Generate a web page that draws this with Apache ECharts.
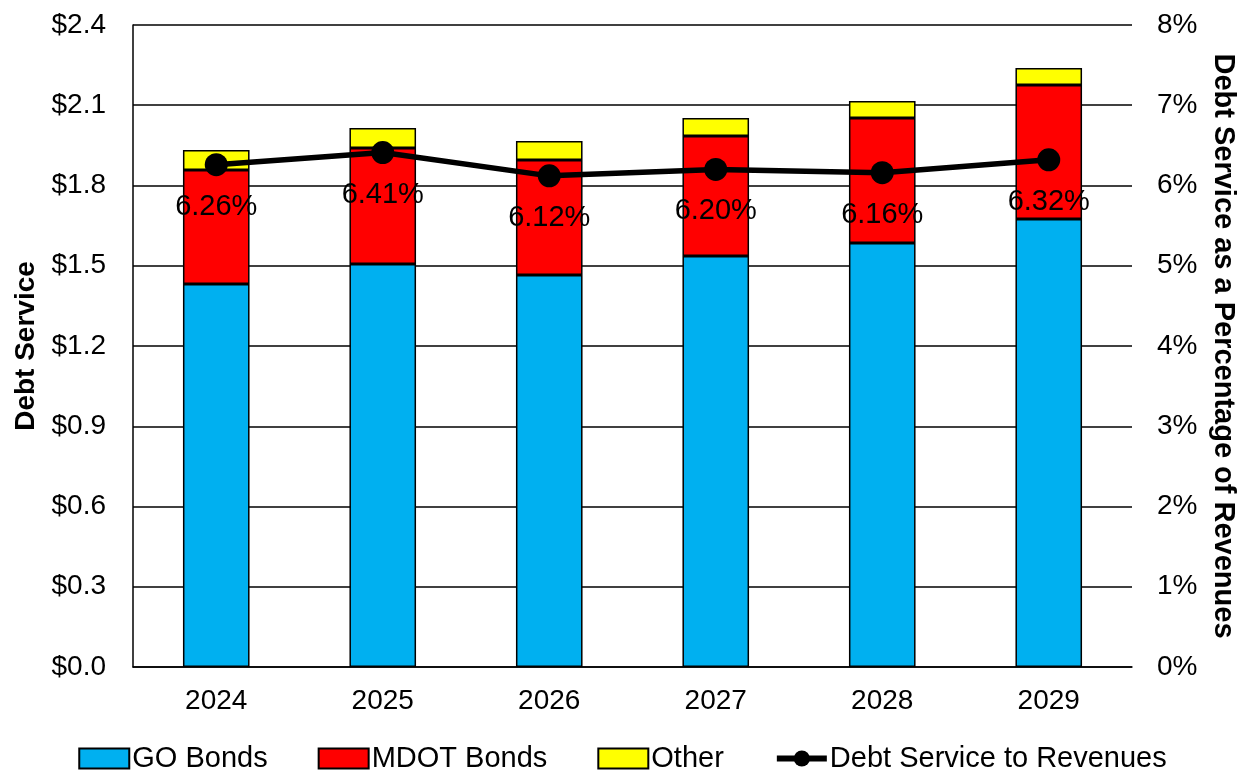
<!DOCTYPE html>
<html>
<head>
<meta charset="utf-8">
<script src="https://cdn.jsdelivr.net/npm/echarts@6/dist/echarts.min.js"></script>
<style>
html,body{margin:0;padding:0;background:#fff;}
#chart{width:1245px;height:773px;}
</style>
</head>
<body>
<div id="chart"></div>
<script>
var categories = ['2024', '2025', '2026', '2027', '2028', '2029'];
var goBonds = [1.432, 1.507, 1.465, 1.536, 1.585, 1.675];
var mdotBonds = [0.426, 0.433, 0.430, 0.449, 0.467, 0.501];
var other = [0.075, 0.075, 0.071, 0.067, 0.064, 0.063];
var debtRatio = [6.26, 6.41, 6.12, 6.20, 6.16, 6.32];
var leftTicks = {min: 0, max: 2.4, interval: 0.3};
var rightTicks = {min: 0, max: 8, interval: 1};

var FONT = 'Liberation Sans, Arial, sans-serif';
var chart = echarts.init(document.getElementById('chart'));
var barStyle = function (c) {
  return {color: c, borderColor: '#000', borderWidth: 1.5};
};
chart.setOption({
  animation: false,
  textStyle: {fontFamily: FONT},
  grid: {left: 133, right: 113, top: 25, bottom: 106, containLabel: false, outerBoundsMode: 'none'},
  legend: {
    top: 739,
    left: 'center',
    itemWidth: 50,
    itemHeight: 20,
    itemGap: 50,
    textStyle: {fontSize: 29, color: '#000', fontFamily: FONT, padding: [0, 0, 0, -2]},
    data: [
      {name: 'GO Bonds', icon: 'rect'},
      {name: 'MDOT Bonds', icon: 'rect'},
      {name: 'Other', icon: 'rect'},
      {name: 'Debt Service to Revenues', lineStyle: {width: 6}}
    ]
  },
  xAxis: {
    type: 'category',
    data: categories,
    axisLine: {lineStyle: {color: '#000', width: 1.5}},
    axisTick: {show: false},
    axisLabel: {fontSize: 28, color: '#000', margin: 20, fontFamily: FONT}
  },
  yAxis: [
    {
      type: 'value',
      min: leftTicks.min, max: leftTicks.max, interval: leftTicks.interval,
      name: 'Debt Service',
      nameLocation: 'middle',
      nameGap: 90,
      nameTextStyle: {fontSize: 28, fontWeight: 'bold', color: '#000', fontFamily: FONT},
      axisLine: {show: true, lineStyle: {color: '#000', width: 1.5}},
      axisTick: {show: false},
      axisLabel: {fontSize: 28, color: '#000', margin: 27, fontFamily: FONT,
        formatter: function (v) { return '$' + v.toFixed(1); }},
      splitLine: {lineStyle: {color: '#000', width: 1.5}}
    },
    {
      type: 'value',
      min: rightTicks.min, max: rightTicks.max, interval: rightTicks.interval,
      position: 'right',
      name: 'Debt Service as a Percentage of Revenues',
      nameLocation: 'middle',
      nameRotate: -90,
      nameGap: 76,
      nameTextStyle: {fontSize: 29, fontWeight: 'bold', color: '#000', fontFamily: FONT},
      axisLine: {show: false},
      axisTick: {show: false},
      axisLabel: {fontSize: 28, color: '#000', margin: 25, fontFamily: FONT, formatter: '{value}%'},
      splitLine: {show: false}
    }
  ],
  series: [
    {name: 'GO Bonds', type: 'bar', stack: 'ds', barWidth: '40%', data: goBonds, itemStyle: barStyle('#00B0F0')},
    {name: 'MDOT Bonds', type: 'bar', stack: 'ds', data: mdotBonds, itemStyle: barStyle('#FF0000')},
    {name: 'Other', type: 'bar', stack: 'ds', data: other, itemStyle: barStyle('#FFFF00')},
    {
      name: 'Debt Service to Revenues', type: 'line', yAxisIndex: 1, data: debtRatio,
      symbol: 'circle', symbolSize: 23,
      lineStyle: {color: '#000', width: 5.5},
      itemStyle: {color: '#000'},
      label: {show: true, position: 'bottom', distance: 16, fontSize: 29, color: '#000', fontFamily: FONT,
        formatter: function (p) { return p.value.toFixed(2) + '%'; }},
      z: 5
    }
  ]
});
</script>
</body>
</html>
